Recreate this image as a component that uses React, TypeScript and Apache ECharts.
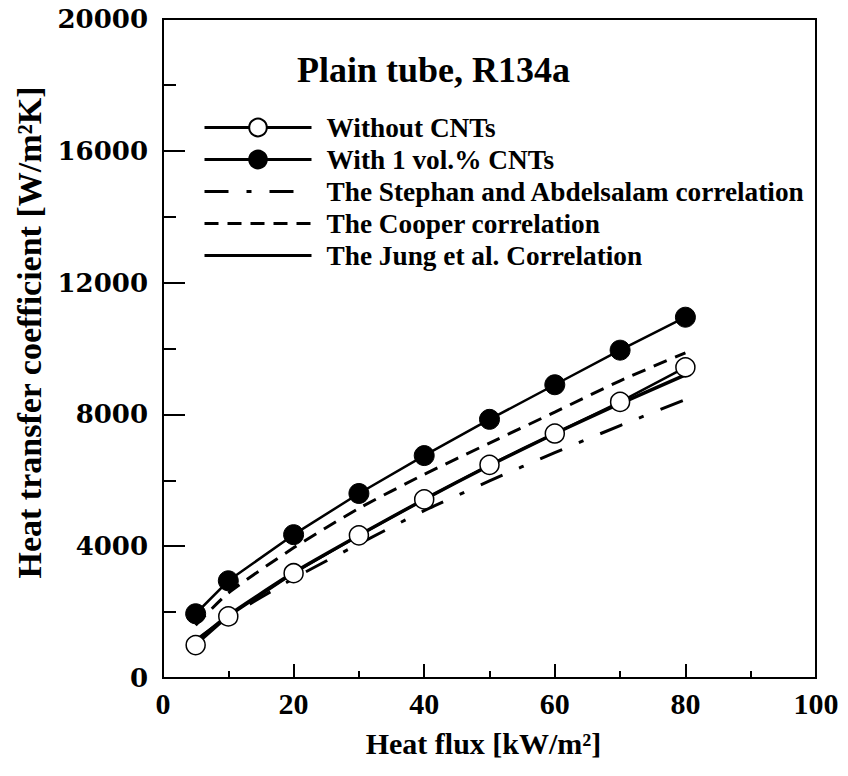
import React, { useEffect, useRef } from "react";
import * as echarts from "echarts";

const heatFlux = [5, 10, 20, 30, 40, 50, 60, 70, 80];
const withoutCNTs = [1000, 1870, 3180, 4330, 5420, 6470, 7420, 8380, 9430];
const withCNTs = [1950, 2950, 4350, 5600, 6750, 7850, 8900, 9950, 10950];
const stephanAbdelsalam = [1150, 1850, 3020, 4070, 5080, 5980, 6840, 7660, 8450];
const cooper = [1600, 2580, 3950, 5150, 6180, 7130, 8070, 9020, 9870];
const jung = [1100, 1900, 3200, 4330, 5420, 6450, 7420, 8330, 9200];

const seriesNames = [
  "Without CNTs",
  "With 1 vol.% CNTs",
  "The Stephan and Abdelsalam correlation",
  "The Cooper correlation",
  "The Jung et al. Correlation",
];

const pairs = (ys: number[]) => heatFlux.map((x, i) => [x, ys[i]]);

const SERIF = "'Liberation Serif', 'Times New Roman', serif";

export default function App() {
  const ref = useRef<HTMLDivElement>(null);
  useEffect(() => {
    if (!ref.current) return;
    const chart = echarts.init(ref.current, undefined, { renderer: "svg" });
    chart.setOption({
      animation: false,
      backgroundColor: "#fff",
      title: {
        text: "Plain tube, R134a",
        left: 292,
        top: 47,
        textStyle: { fontFamily: SERIF, fontWeight: "bold", fontSize: 36, color: "#000" },
      },
      legend: {
        orient: "vertical",
        left: 198,
        top: 109,
        itemWidth: 107,
        itemHeight: 22,
        itemGap: 5,
        data: seriesNames.map((n, i) =>
          i >= 2 ? { name: n, itemStyle: { opacity: 0 } } : { name: n }
        ),
        lineStyle: { width: 3 },
        textStyle: {
          fontFamily: SERIF,
          fontWeight: "bold",
          fontSize: 27.3,
          color: "#000",
          padding: [0, 0, 0, 10],
        },
      },
      grid: {
        left: 163,
        right: 32,
        top: 19,
        bottom: 98,
        show: true,
        borderColor: "#000",
        borderWidth: 2,
        backgroundColor: "transparent",
      },
      xAxis: {
        type: "value",
        min: 0,
        max: 100,
        interval: 20,
        name: "Heat flux [kW/m²]",
        nameLocation: "middle",
        nameGap: 50,
        nameMoveOverlap: false,
        nameTextStyle: {
          fontFamily: SERIF,
          fontWeight: "bold",
          fontSize: 30,
          color: "#000",
          padding: [0, 12, 0, 0],
        },
        axisLine: { lineStyle: { color: "#000", width: 2 } },
        axisTick: { inside: true, length: 14, lineStyle: { color: "#000", width: 2 } },
        minorTick: { show: true, splitNumber: 2, length: 7, lineStyle: { color: "#000", width: 2 } },
        splitLine: { show: false },
        axisLabel: {
          margin: 10,
          fontFamily: SERIF,
          fontWeight: "bold",
          fontSize: 30,
          color: "#000",
        },
      },
      yAxis: {
        type: "value",
        min: 0,
        max: 20000,
        interval: 4000,
        name: "Heat transfer coefficient [W/m²K]",
        nameLocation: "middle",
        nameGap: 117,
        nameMoveOverlap: false,
        nameTextStyle: {
          fontFamily: SERIF,
          fontWeight: "bold",
          fontSize: 34,
          color: "#000",
          padding: [0, 0, 0, 32],
        },
        axisLine: { lineStyle: { color: "#000", width: 2 } },
        axisTick: { inside: true, length: 22, lineStyle: { color: "#000", width: 2 } },
        minorTick: { show: true, splitNumber: 2, length: 13, lineStyle: { color: "#000", width: 2 } },
        splitLine: { show: false },
        axisLabel: {
          margin: 15,
          formatter: (v: number) => String(v),
          fontFamily: "'DejaVu Serif', serif",
          fontWeight: "bold",
          fontSize: 26,
          color: "#000",
        },
      },
      series: [
        {
          name: seriesNames[0],
          type: "line",
          data: pairs(withoutCNTs),
          symbol: "circle",
          symbolSize: 19,
          lineStyle: { color: "#000", width: 2.5 },
          itemStyle: { color: "#fff", borderColor: "#000", borderWidth: 1.5 },
        },
        {
          name: seriesNames[1],
          type: "line",
          data: pairs(withCNTs),
          symbol: "circle",
          symbolSize: 20,
          lineStyle: { color: "#000", width: 2.5 },
          itemStyle: { color: "#000", borderColor: "#000", borderWidth: 1 },
        },
        {
          name: seriesNames[2],
          type: "line",
          data: pairs(stephanAbdelsalam),
          symbol: "none",
          smooth: 0.2,
          lineStyle: { color: "#000", width: 3, type: [24, 18, 5, 18] },
          itemStyle: { color: "#000" },
        },
        {
          name: seriesNames[3],
          type: "line",
          data: pairs(cooper),
          symbol: "none",
          smooth: 0.2,
          lineStyle: { color: "#000", width: 3, type: [14, 9] },
          itemStyle: { color: "#000" },
        },
        {
          name: seriesNames[4],
          type: "line",
          data: pairs(jung),
          symbol: "none",
          smooth: 0.2,
          lineStyle: { color: "#000", width: 3.5 },
          itemStyle: { color: "#000" },
        },
      ],
    });
    return () => chart.dispose();
  }, []);
  return <div ref={ref} style={{ width: 848, height: 776, position: "absolute", left: 0, top: 0 }} />;
}
